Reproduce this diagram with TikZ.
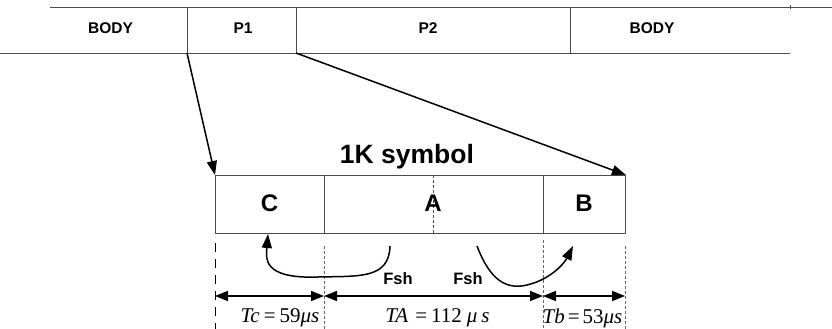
\documentclass[tikz,border=0pt]{standalone}
\usepackage{fontspec}
\setmainfont{Liberation Sans}
\newfontfamily\timesfont{Liberation Serif}
\usetikzlibrary{arrows.meta}
\begin{document}
\begin{tikzpicture}[x=1pt,y=-1pt,
  frame/.style={draw=black!70,line width=0.9pt},
  hdr/.style={font=\fontsize{15.5}{18}\selectfont\bfseries,inner sep=0pt},
  big/.style={font=\fontsize{24}{28}\selectfont\bfseries,inner sep=0pt},
  lbl/.style={font=\fontsize{16.5}{19}\selectfont\bfseries,inner sep=0pt},
  tm/.style={font=\timesfont\fontsize{21}{24}\selectfont,inner sep=0pt},
  zoomarrow/.style={line width=1.5pt,-{Triangle[length=14pt,width=10pt]}},
  span/.style={line width=1.6pt,{Triangle[length=13pt,width=10pt]}-{Triangle[length=13pt,width=10pt]}},
  swap/.style={line width=1.5pt,-{Triangle[length=14pt,width=10pt]}},
  guide/.style={draw=black!60,line width=0.7pt,dash pattern=on 3pt off 2pt},
  edge/.style={draw=black,line width=0.9pt,dash pattern=on 9pt off 7pt}]
\useasboundingbox (0,0) rectangle (832,329);

% frame strip at the top
\coordinate (s0) at (0,53);
\coordinate (t0) at (50,7);
\coordinate (t1) at (832,7);
\coordinate (s1) at (790,53);
\coordinate (p1l) at (187,53);
\coordinate (p2l) at (296,53);
\coordinate (b2l) at (570,53);
\draw[frame] (t0) -- (t1);
\draw[frame] (s0) -- (s1);
\draw[frame] (187,7) -- (p1l);
\draw[frame] (296,7) -- (p2l);
\draw[frame] (570,7) -- (b2l);
\draw[frame] (790,5) -- (790,9);
\node[hdr] (body1) at (110.5,28) {BODY};
\node[hdr] (p1) at (243,28) {P1};
\node[hdr] (p2) at (428,28) {P2};
\node[hdr] (body2) at (652,28) {BODY};

% symbol box
\node[frame,minimum width=410pt,minimum height=58pt,inner sep=0pt,anchor=north west] (sym) at (215,175) {};
\draw[frame] (324,175) -- (324,233);
\draw[frame] (543,175) -- (543,233);
\draw[draw=black!70,line width=0.7pt,dash pattern=on 3pt off 2pt] (433,175) -- (433,233);
\node[big] (c) at (269.5,203) {C};
\node[big] (a) at (433,203) {A};
\node[big] (b) at (584,203) {B};
\node[font=\fontsize{26.5}{30}\selectfont\bfseries,inner sep=0pt] (title) at (407,157) {1K symbol};

% zoom arrows from P1 to the symbol
\draw[zoomarrow] (p1l) -- (sym.north west);
\draw[zoomarrow] (p2l) -- (sym.north east);

% guide lines below the box
\coordinate (g0) at (215,243);
\coordinate (g1) at (324,246);
\coordinate (g2) at (543,240);
\coordinate (g3) at (625,246);
\draw[edge] (g0) -- (215,329);
\draw[guide] (g1) -- (324,329);
\draw[guide] (g2) -- (543,329);
\draw[guide] (g3) -- (625,329);

% durations
\coordinate (d0) at (215,296);
\coordinate (d1) at (324,296);
\coordinate (d2) at (543,296);
\coordinate (d3) at (625,296);
\draw[span] (d0) -- (d1);
\draw[span] (d1) -- (d2);
\draw[span] (d2) -- (d3);
\node[tm] (tc) at (280,318) {\textit{Tc}\kern4pt=\kern4pt59\textit{μs}};
\node[tm] (ta) at (437.5,318) {\textit{TA}\kern7pt=\kern4pt112\kern5pt\textit{μ\kern4pt s}};
\node[tm] (tb) at (582.5,318) {\textit{Tb}\kern3pt=\kern3pt53\textit{μs}};

% frequency shift arrows
\coordinate (f1s) at (390,246);
\coordinate (f1e) at (268,234);
\coordinate (f2s) at (477,246);
\coordinate (f2e) at (573,246);
\draw[swap] (f1s) .. controls (389,279) and (360,276) .. (318,277)
  .. controls (262,279) and (266,258) .. (f1e);
\draw[swap] (f2s) .. controls (490,280) and (506,290) .. (527,285)
  .. controls (552,279) and (565,262) .. (f2e);
\node[lbl] (fsh1) at (398,279) {Fsh};
\node[lbl] (fsh2) at (468,279) {Fsh};
\end{tikzpicture}
\end{document}
